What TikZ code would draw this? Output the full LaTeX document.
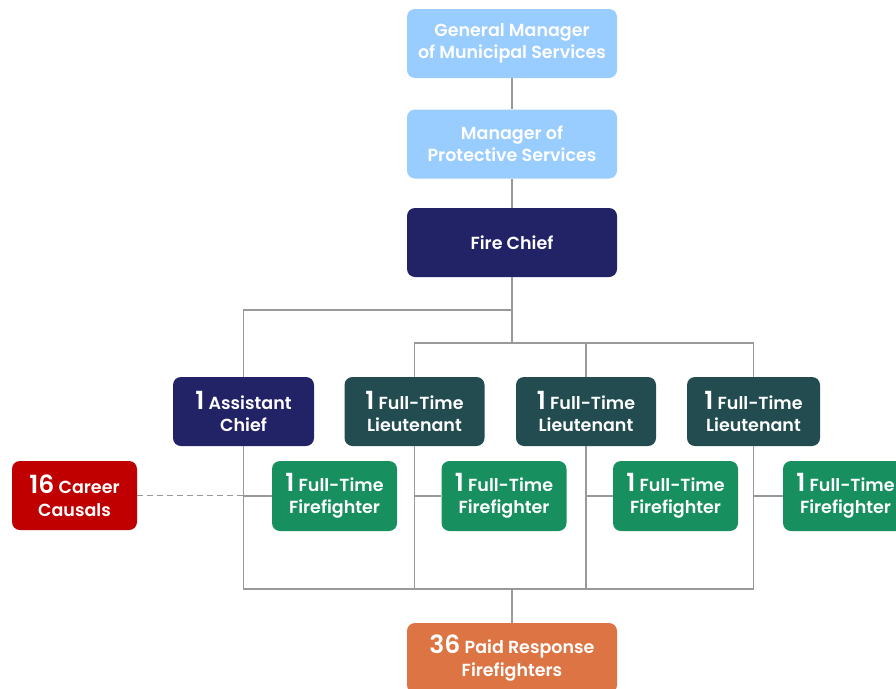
\documentclass[tikz,border=0pt]{standalone}
\usepackage{fontspec}
\setmainfont{Poppins SemiBold}
\usepackage{xcolor}
\usetikzlibrary{positioning, calc}

\definecolor{mgrblue}{HTML}{99CCFF}
\definecolor{chiefnavy}{HTML}{222266}
\definecolor{ltteal}{HTML}{224C4F}
\definecolor{ffgreen}{HTML}{178F5E}
\definecolor{casualred}{HTML}{C00000}
\definecolor{paidorange}{HTML}{DD7444}
\definecolor{linegray}{HTML}{999999}

\newcommand{\bignum}[1]{{\fontsize{25}{22}\selectfont #1}}

\tikzset{
  box/.style={rounded corners=8pt, text=white, align=center, inner sep=0pt,
    font=\fontsize{17.5}{22.5}\selectfont},
  mgrbox/.style={box, fill=mgrblue, minimum width=210pt, minimum height=69pt},
  chiefbox/.style={box, fill=chiefnavy, minimum width=210pt, minimum height=69pt},
  ltbox/.style={box, fill=ltteal, minimum width=140pt, minimum height=69pt},
  ffbox/.style={box, fill=ffgreen, minimum width=125pt, minimum height=70pt},
  link/.style={draw=linegray, line width=1.5pt},
}

\begin{document}
\begin{tikzpicture}[x=1pt, y=-1pt]
                \useasboundingbox (0,0) rectangle (896,688);
                \begin{scope}
                    % top of the chain
                    \node[mgrbox] (gm) at (512,43.5) {General Manager\\of Municipal Services};
                    \node[mgrbox] (mps) at (512,144) {Manager of\\Protective Services};
                    \node[chiefbox] (chief) at (512,242.5) {Fire Chief};

                    % officers
                    \node[chiefbox, minimum width=141pt] (asst) at (243.5,411.5) {\bignum{1} Assistant\\Chief};
                    \node[ltbox] (lt1) at (414.5,411.5) {\bignum{1} Full-Time\\Lieutenant};
                    \node[ltbox] (lt2) at (586,411.5) {\bignum{1} Full-Time\\Lieutenant};
                    \node[ltbox, minimum width=133pt] (lt3) at (753.5,411.5) {\bignum{1} Full-Time\\Lieutenant};

                    % firefighters
                    \node[ffbox] (ff1) at (334.5,496) {\bignum{1} Full-Time\\Firefighter};
                    \node[ffbox] (ff2) at (504,496) {\bignum{1} Full-Time\\Firefighter};
                    \node[ffbox] (ff3) at (675.5,496) {\bignum{1} Full-Time\\Firefighter};
                    \node[ffbox] (ff4) at (845.5,496) {\bignum{1} Full-Time\\Firefighter};
                    \node[box, fill=casualred, minimum width=125pt, minimum height=69pt] (causals) at (74.5,495.5) {\bignum{16} Career\\Causals};
                    \node[box, fill=paidorange, minimum width=210pt, minimum height=70pt] (paid) at (512,658) {\bignum{36} Paid Response\\Firefighters};

                    \coordinate (split) at (512,310);
                    \coordinate (ltbar) at (512,343);
                    \coordinate (bot) at (512,589);
                \end{scope}

                \begin{scope}[on background layer/.try]
                    \draw[link] (gm) -- (mps);
                    \draw[link] (mps) -- (chief);
                    \draw[link] (chief) -- (ltbar);
                    \draw[link] (split) -| (asst);
                    \draw[link] (lt1.north) |- (lt3.north |- ltbar) -- (lt3.north);
                    \draw[link] (lt2.north) -- (lt2.north |- ltbar);
                    \draw[link] (asst.south) |- (lt3.south |- bot) -- (lt3.south);
                    \draw[link] (lt1.south) -- (lt1.south |- bot);
                    \draw[link] (lt2.south) -- (lt2.south |- bot);
                    \draw[link] (bot) -- (paid);
                    \draw[link] (ff1.west) -- (ff1.west -| asst.south);
                    \draw[link] (ff2.west) -- (ff2.west -| lt1.south);
                    \draw[link] (ff3.west) -- (ff3.west -| lt2.south);
                    \draw[link] (ff4.west) -- (ff4.west -| lt3.south);
                    \draw[link, dashed, dash pattern=on 6pt off 4pt] (causals.east) -- (causals.east -| asst.south);
                \end{scope}
            \end{tikzpicture}
\end{document}
